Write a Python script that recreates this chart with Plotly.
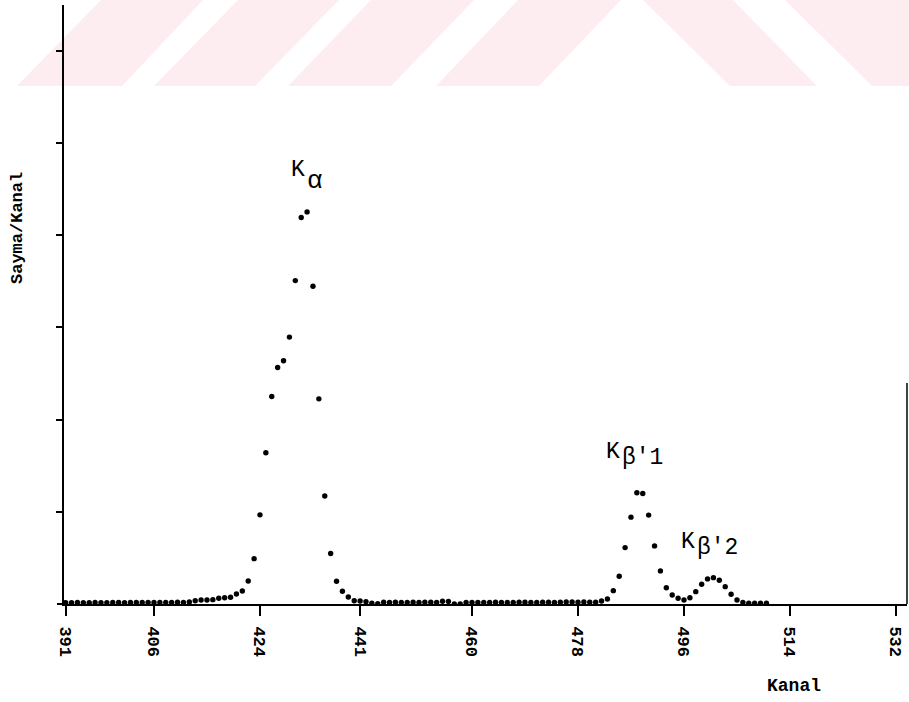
import plotly.graph_objects as go

# ---- data -------------------------------------------------------------
# Channel numbers, one reading per channel
kanal = list(range(391, 511))

# Counts per channel, split by region of the spectrum
sayma_taban_sol = [15, 14, 16, 15, 14, 16, 15, 15, 17, 16,
                   15, 16, 17, 16, 18, 17, 16, 18, 17, 19]          # 391-410
sayma_k_alfa = [18, 22, 36, 43, 43, 47, 62, 68, 73, 109,
                141, 250, 492, 967, 1641, 2250, 2565, 2638, 2895, 3508,
                4192, 4253, 3446, 2225, 1171, 547, 247, 138, 76, 36,
                33, 25, 8, 3]                                       # 411-444
sayma_taban_orta = [20, 18, 20, 18, 17, 19, 18, 20, 19, 18,
                    30, 28, 0, 0, 17, 18, 16, 18, 17, 19,
                    18, 17, 18, 20, 19, 18, 17, 19, 20, 18,
                    19, 21, 22, 20, 22, 20]                         # 445-480
sayma_k_beta = [20, 32, 54, 145, 301, 612, 942, 1207, 1199, 964,
                630, 359, 177, 98, 62, 43, 68, 134, 214, 272,
                286, 258, 188, 105, 43, 18, 8, 8, 8, 8]             # 481-510

sayma = sayma_taban_sol + sayma_k_alfa + sayma_taban_orta + sayma_k_beta

x_tick_vals = [391, 406, 424, 441, 460, 478, 496, 514, 532]
x_tick_text = [str(v) for v in x_tick_vals]
y_tick_vals = [1000, 2000, 3000, 4000, 5000, 6000]

# ---- page geometry ------------------------------------------------------
W, H = 909, 702
L, R, T, B = 64, 2, 5, 98
PW, PH = W - L - R, H - T - B


def px_x(px):
    return (px - L) / PW


def px_y(py):
    return (T + PH - py) / PH


MONO = "Liberation Mono"

fig = go.Figure()
fig.add_trace(go.Scatter(
    x=kanal, y=sayma, mode="markers",
    marker=dict(color="black", size=5.4, line=dict(width=0)),
    hoverinfo="x+y", showlegend=False,
))

# ---- pale striped band across the top of the page ----------------------
pink = "rgb(253,237,240)"
band_top, band_bot = 0, 86
shapes = []
# slanted "/" stripes: (bottom-left, bottom-right, top-left, top-right)
for bl, br, tl, tr in [(17, 122, 101, 203), (154, 255, 238, 339),
                       (288, 391, 371, 474), (436, 539, 518, 621)]:
    pts = [(bl, band_bot), (br, band_bot), (tr, band_top), (tl, band_top)]
    path = "M " + " L ".join(f"{px_x(a):.5f},{px_y(b):.5f}" for a, b in pts) + " Z"
    shapes.append(dict(type="path", path=path, xref="paper", yref="paper",
                       fillcolor=pink, line=dict(width=0), layer="below"))
# slanted "\" stripes: (top-left, top-right, bottom-left, bottom-right)
for tl, tr, bl, br in [(643, 733, 730, 817), (785, 960, 872, 1047)]:
    pts = [(tl, band_top), (tr, band_top), (br, band_bot), (bl, band_bot)]
    path = "M " + " L ".join(f"{px_x(a):.5f},{px_y(b):.5f}" for a, b in pts) + " Z"
    shapes.append(dict(type="path", path=path, xref="paper", yref="paper",
                       fillcolor=pink, line=dict(width=0), layer="below"))

# x axis line runs a little past the y axis; short frame piece on the right
shapes.append(dict(type="line", xref="paper", yref="paper",
                   x0=px_x(57), x1=0, y0=0, y1=0,
                   line=dict(color="black", width=2)))
shapes.append(dict(type="line", xref="paper", yref="paper",
                   x0=1, x1=1, y0=0, y1=px_y(383),
                   line=dict(color="black", width=1.5)))

# ---- text -----------------------------------------------------------------
annotations = []


def label(text, left, cy, size, angle=0, anchor="left", weight="normal"):
    annotations.append(dict(
        text=text, x=px_x(left), y=px_y(cy), xref="paper", yref="paper",
        xanchor=anchor, yanchor="middle", showarrow=False, textangle=angle,
        font=dict(family=MONO, size=size, color="black", weight=weight),
    ))


label("Sayma/Kanal", 18, 228, 17, angle=-90, anchor="center", weight="bold")
label("Kanal", 794, 686, 18, anchor="center", weight="bold")

# peak names
label("K", 289, 170, 23)
label("α", 305, 181, 26)
label("K", 604, 452, 23)
label("β'1", 620, 458, 23)
label("K", 679, 542, 23)
label("β'2", 695, 548, 23)

fig.update_layout(
    width=W, height=H,
    margin=dict(l=L, r=R, t=T, b=B, pad=0),
    paper_bgcolor="white", plot_bgcolor="rgba(0,0,0,0)",
    shapes=shapes, annotations=annotations,
    xaxis=dict(
        range=[390.72, 533.87], showgrid=False, zeroline=False,
        showline=True, linecolor="black", linewidth=2,
        ticks="outside", ticklen=10, tickwidth=1.5, tickcolor="black",
        tickvals=x_tick_vals, ticktext=x_tick_text, tickangle=90,
        tickfont=dict(family=MONO, size=17, color="black", weight="bold"),
        ticklabelstandoff=7,
    ),
    yaxis=dict(
        range=[0, 6497], showgrid=False, zeroline=False,
        showline=True, linecolor="black", linewidth=1.5,
        ticks="outside", ticklen=6, tickwidth=1.5, tickcolor="black",
        tickvals=y_tick_vals, showticklabels=False,
    ),
)

fig.write_html("out.html")
